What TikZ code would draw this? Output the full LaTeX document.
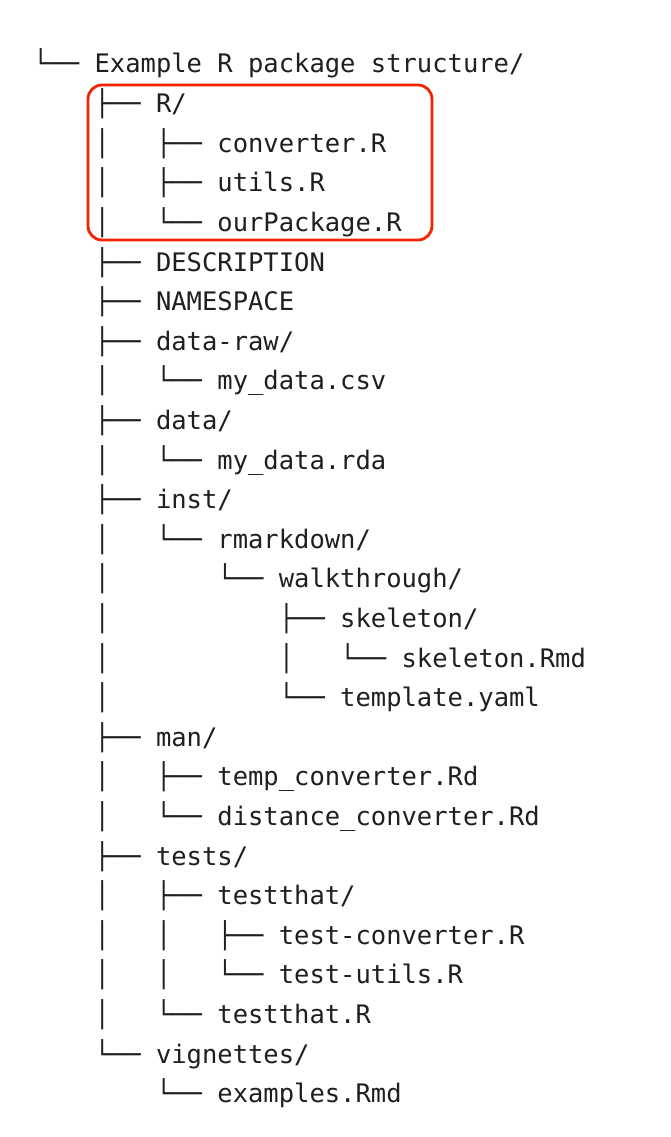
\documentclass[tikz,border=0pt]{standalone}
\usepackage{fontspec}
\setmonofont{DejaVu Sans Mono}
\begin{document}
\begin{tikzpicture}[x=1pt,y=-1pt,
  ln/.style={anchor=base west,inner sep=0pt,font=\ttfamily\fontsize{25.5}{26}\selectfont,text=black!88},
  hl/.style={draw=red!70!orange!95!black,line width=2.8pt,rounded corners=14pt}]
\useasboundingbox (0,0) rectangle (671,1137);
\def\L{33}\def\d{39.6}
\foreach \t [count=\i] in {
{└──~Example~R~package~structure/},
{~~~~├──~R/},
{~~~~│~~~├──~converter.R},
{~~~~│~~~├──~utils.R},
{~~~~│~~~└──~ourPackage.R},
{~~~~├──~DESCRIPTION},
{~~~~├──~NAMESPACE},
{~~~~├──~data-raw/},
{~~~~│~~~└──~my\_data.csv},
{~~~~├──~data/},
{~~~~│~~~└──~my\_data.rda},
{~~~~├──~inst/},
{~~~~│~~~└──~rmarkdown/},
{~~~~│~~~~~~~└──~walkthrough/},
{~~~~│~~~~~~~~~~~├──~skeleton/},
{~~~~│~~~~~~~~~~~│~~~└──~skeleton.Rmd},
{~~~~│~~~~~~~~~~~└──~template.yaml},
{~~~~├──~man/},
{~~~~│~~~├──~temp\_converter.Rd},
{~~~~│~~~└──~distance\_converter.Rd},
{~~~~├──~tests/},
{~~~~│~~~├──~testthat/},
{~~~~│~~~│~~~├──~test-converter.R},
{~~~~│~~~│~~~└──~test-utils.R},
{~~~~│~~~└──~testthat.R},
{~~~~└──~vignettes/},
{~~~~~~~~└──~examples.Rmd}}
  \node[ln] (l\i) at (\L,{65+(\i-1)*\d+8}) {\t};
\draw[hl] (88,85) rectangle (432,240);
\end{tikzpicture}
\end{document}
